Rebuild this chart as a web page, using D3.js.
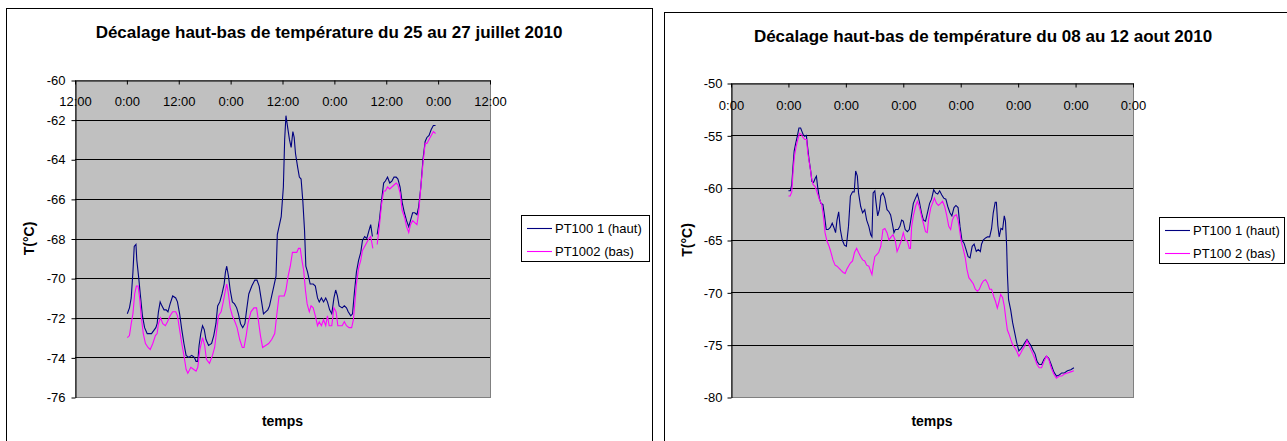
<!DOCTYPE html>
<html>
<head>
<meta charset="utf-8">
<script src="https://cdn.jsdelivr.net/npm/d3@7"></script>
<style>
  body { margin: 0; background: #fff; }
  svg text { font-family: "Liberation Sans", Arial, sans-serif; }
</style>
</head>
<body>
<svg id="chart" width="1287" height="441"></svg>
<script>
// juillet : heures depuis le 25/07/2010 0:00, temperature en °C (null = trou)
var julyHaut = [[0.1,-71.8],[0.6,-71.5],[1.0,-71.0],[1.4,-69.7],[1.7,-68.4],[2.1,-68.3],[2.3,-69.1],[2.7,-69.9],[3.1,-70.8],[3.6,-71.9],[4.1,-72.5],[4.7,-72.8],[5.7,-72.8],[6.7,-72.5],[7.0,-72.3],[7.3,-71.7],[7.7,-71.2],[8.1,-71.4],[8.6,-71.6],[9.1,-71.6],[9.5,-71.7],[10.0,-71.3],[10.6,-70.9],[11.3,-71.0],[11.7,-71.2],[12.2,-71.8],[12.7,-72.6],[13.2,-73.3],[13.7,-73.9],[14.3,-74.0],[15.0,-73.9],[15.6,-74.0],[16.0,-74.2],[16.4,-74.2],[16.7,-73.4],[17.1,-72.8],[17.5,-72.4],[17.9,-72.6],[18.3,-73.1],[18.9,-73.4],[19.6,-73.3],[20.1,-72.9],[20.6,-72.3],[21.0,-71.4],[21.5,-71.2],[22.0,-70.8],[22.5,-70.3],[22.8,-69.7],[23.1,-69.4],[23.5,-69.9],[23.9,-70.6],[24.4,-71.2],[24.9,-71.3],[25.4,-71.5],[25.8,-71.8],[26.3,-72.3],[26.8,-72.5],[27.3,-72.3],[27.7,-71.6],[28.2,-70.8],[28.9,-70.4],[29.6,-70.1],[30.1,-70.1],[30.6,-70.4],[31.1,-71.1],[31.6,-71.8],[32.1,-71.7],[32.6,-71.6],[33.0,-71.4],[33.5,-70.9],[34.0,-70.4],[34.5,-69.9],[34.8,-67.8],[35.1,-67.5],[35.7,-66.9],[36.2,-65.4],[36.5,-63.0],[36.8,-61.8],[37.2,-62.4],[37.6,-63.0],[38.0,-63.4],[38.4,-62.6],[38.7,-62.9],[39.0,-63.7],[39.5,-64.4],[39.9,-64.9],[40.3,-65.0],[40.7,-66.1],[41.1,-67.6],[41.4,-69.4],[41.8,-69.7],[42.4,-70.3],[43.1,-70.3],[43.6,-70.4],[44.1,-71.0],[44.5,-71.2],[45.0,-71.0],[45.5,-71.2],[46.0,-71.0],[46.4,-71.2],[46.9,-71.6],[47.4,-71.8],[47.9,-71.0],[48.3,-70.6],[48.7,-70.9],[49.1,-71.4],[49.8,-71.5],[50.3,-71.4],[50.8,-71.5],[51.2,-71.7],[51.8,-71.9],[52.2,-71.8],[52.6,-70.8],[53.1,-69.7],[53.6,-69.1],[54.1,-68.7],[54.5,-68.1],[55.0,-67.9],[55.5,-68.0],[56.0,-67.6],[56.4,-67.3],[56.8,-67.9],[57.3,null],[57.9,-67.8],[58.4,-67.1],[58.9,-66.1],[59.4,-65.2],[59.8,-65.1],[60.3,-64.9],[60.8,-65.2],[61.3,-65.1],[61.8,-64.9],[62.3,-64.9],[62.7,-65.0],[63.2,-65.4],[63.7,-66.2],[64.2,-66.7],[64.7,-67.1],[65.2,-67.4],[65.6,-67.1],[66.1,-66.7],[66.6,-66.7],[67.1,-66.8],[67.5,-66.4],[68.0,-65.4],[68.5,-64.0],[69.0,-63.1],[69.4,-62.9],[69.9,-62.8],[70.4,-62.5],[70.9,-62.3],[71.4,-62.3]];
var julyBas = [[0.1,-73.0],[0.6,-72.9],[1.0,-72.3],[1.4,-71.8],[1.8,-70.8],[2.2,-70.4],[2.6,-70.4],[3.0,-71.1],[3.3,-71.9],[3.8,-72.8],[4.3,-73.3],[4.9,-73.5],[5.4,-73.6],[6.0,-73.3],[6.6,-72.9],[7.0,-72.8],[7.3,-72.3],[7.8,-72.0],[8.3,-72.3],[8.9,-72.4],[9.4,-72.2],[10.0,-71.9],[10.6,-71.7],[11.3,-71.7],[11.7,-71.9],[12.2,-72.6],[12.7,-73.3],[13.2,-73.9],[13.7,-74.6],[14.1,-74.8],[14.8,-74.5],[15.4,-74.6],[16.0,-74.7],[16.4,-74.5],[16.9,-73.6],[17.5,-73.0],[18.0,-73.4],[18.4,-74.1],[19.1,-74.3],[19.8,-73.9],[20.3,-73.5],[20.8,-72.6],[21.2,-71.9],[21.8,-71.7],[22.3,-71.2],[22.8,-70.6],[23.1,-70.3],[23.5,-70.8],[23.9,-71.5],[24.4,-71.9],[25.0,-72.2],[25.5,-72.5],[26.1,-73.1],[26.7,-73.5],[27.1,-73.5],[27.6,-72.9],[28.0,-72.3],[28.7,-71.7],[29.4,-71.5],[30.0,-71.5],[30.4,-72.1],[30.9,-72.9],[31.4,-73.5],[32.1,-73.4],[32.8,-73.3],[33.5,-73.1],[34.2,-72.8],[34.7,-71.8],[35.2,-70.9],[35.7,-70.9],[36.4,-70.9],[36.8,-70.6],[37.3,-69.9],[37.8,-69.4],[38.3,-68.7],[38.8,-68.7],[39.3,-68.7],[39.7,-68.5],[40.1,-68.5],[40.5,-69.1],[40.9,-69.6],[41.3,-70.6],[41.7,-71.3],[42.2,-71.7],[42.6,-71.4],[43.1,-71.5],[43.6,-71.9],[44.1,-72.4],[44.5,-72.2],[45.0,-72.4],[45.5,-72.1],[46.0,-72.4],[46.4,-71.9],[46.8,-72.4],[47.4,-72.4],[47.9,-71.5],[48.4,-71.7],[48.8,-72.4],[49.3,-72.4],[49.8,-72.4],[50.3,-72.2],[50.8,-72.4],[51.4,-72.5],[52.0,-72.5],[52.4,-72.1],[52.8,-71.1],[53.1,-70.3],[53.6,-69.5],[54.1,-69.1],[54.5,-68.6],[55.0,-68.4],[55.5,-68.2],[56.0,-68.0],[56.4,-67.9],[56.9,-68.5],[57.3,null],[57.9,-68.3],[58.4,-67.4],[58.9,-66.3],[59.4,-65.6],[59.8,-65.6],[60.3,-65.4],[60.8,-65.5],[61.3,-65.4],[61.8,-65.3],[62.3,-65.2],[62.7,-65.3],[63.2,-65.7],[63.7,-66.6],[64.2,-66.9],[64.7,-67.4],[65.2,-67.7],[65.6,-67.3],[66.1,-67.1],[66.6,-67.2],[67.1,-67.3],[67.5,-66.7],[68.0,-65.4],[68.5,-64.2],[69.0,-63.2],[69.4,-63.2],[69.9,-63.0],[70.4,-62.8],[70.9,-62.6],[71.4,-62.7]];

// aout : heures depuis le 08/08/2010 0:00
var aoutHaut = [[0,-60.3],[0.8,-60.3],[1.4,-59.7],[1.9,-58.0],[2.4,-56.5],[3.1,-55.7],[3.7,-55.1],[4.4,-54.3],[5.1,-54.3],[5.6,-54.6],[6.1,-54.9],[6.8,-55.1],[7.5,-55.0],[8.0,-56.1],[8.6,-57.3],[9.3,-58.4],[9.8,-59.4],[10.5,-59.5],[11.2,-59.1],[11.7,-58.9],[12.2,-59.9],[12.9,-61.0],[13.6,-61.5],[14.4,-61.6],[15.1,-62.7],[15.8,-64.0],[16.6,-64.0],[17.5,-63.8],[18.3,-63.4],[19.0,-63.8],[19.7,-64.3],[20.3,-63.1],[21.0,-62.3],[21.7,-64.0],[22.5,-65.0],[23.4,-65.5],[24.2,-65.6],[25.1,-63.7],[25.9,-60.8],[26.8,-60.4],[27.5,-60.4],[28.1,-58.4],[28.8,-58.9],[29.3,-60.5],[30.2,-61.8],[31.0,-62.4],[31.9,-62.1],[32.7,-63.1],[33.6,-63.7],[34.4,-64.5],[34.9,-64.7],[35.4,-60.5],[36.1,-60.3],[36.6,-61.4],[37.3,-62.7],[38.0,-62.1],[38.6,-60.8],[39.5,-60.5],[40.3,-61.0],[41.2,-62.1],[42.0,-62.3],[42.7,-62.6],[43.4,-63.4],[44.1,-64.3],[44.7,-64.0],[45.8,-64.0],[46.6,-63.7],[47.3,-63.1],[48.0,-63.2],[48.8,-64.0],[49.7,-64.2],[50.5,-64.0],[51.4,-62.7],[52.2,-61.5],[53.1,-61.0],[53.9,-60.6],[54.7,-61.3],[55.6,-62.4],[56.4,-63.1],[57.3,-63.2],[58.1,-62.4],[59.0,-61.5],[59.8,-61.1],[60.7,-60.2],[61.5,-60.5],[62.4,-60.6],[63.2,-60.3],[64.1,-60.7],[64.9,-61.0],[65.8,-61.1],[66.6,-61.8],[67.5,-62.4],[68.3,-62.7],[69.2,-61.9],[70.0,-61.7],[70.9,-61.9],[71.7,-63.7],[72.5,-65.0],[73.4,-65.3],[74.2,-65.9],[75.1,-66.6],[75.9,-66.7],[76.8,-65.6],[77.6,-65.4],[78.5,-66.1],[79.3,-65.9],[80.2,-66.1],[80.7,-65.4],[81.4,-65.0],[82.4,-64.8],[83.2,-64.7],[84.1,-64.7],[84.9,-63.9],[85.6,-62.4],[86.4,-61.4],[86.9,-61.4],[87.5,-63.6],[88.1,-64.7],[88.8,-63.9],[89.5,-64.0],[90.2,-62.7],[90.7,-63.2],[91.2,-65.6],[91.5,-68.2],[92.0,-70.7],[92.9,-71.7],[93.7,-72.9],[94.6,-73.9],[95.4,-74.8],[96.3,-75.6],[97.1,-75.4],[98.0,-75.1],[98.8,-74.8],[99.7,-74.5],[100.5,-74.8],[101.4,-75.1],[102.2,-75.5],[103.1,-75.9],[103.9,-76.6],[104.8,-76.9],[105.8,-76.9],[106.8,-76.4],[107.8,-76.1],[108.8,-76.3],[109.8,-76.9],[110.9,-77.6],[112.0,-78.0],[113.2,-77.9],[114.2,-77.7],[115.3,-77.7],[116.6,-77.5],[118.0,-77.4],[119.3,-77.2]];
var aoutBas = [[0,-60.8],[0.7,-60.8],[1.4,-60.4],[1.9,-58.6],[2.5,-57.0],[3.2,-56.1],[3.9,-55.4],[4.7,-54.8],[5.4,-54.9],[6.1,-55.2],[6.9,-55.4],[7.6,-55.4],[8.1,-56.7],[9.0,-58.0],[9.7,-59.1],[10.3,-59.7],[11.2,-59.9],[11.9,-60.4],[12.9,-61.1],[13.9,-61.6],[14.6,-62.7],[15.3,-64.3],[16.1,-65.1],[17.0,-65.6],[17.8,-66.2],[18.6,-66.9],[19.5,-67.4],[20.3,-67.5],[21.2,-67.7],[22.0,-67.9],[22.9,-68.1],[23.7,-68.2],[24.4,-67.8],[25.1,-67.5],[25.9,-67.2],[26.8,-67.0],[27.6,-66.2],[28.5,-65.8],[29.3,-66.2],[30.2,-66.6],[31.0,-66.9],[31.9,-67.0],[32.7,-67.4],[33.6,-67.5],[34.4,-68.0],[34.9,-68.3],[35.4,-67.5],[36.1,-66.6],[36.9,-66.4],[37.7,-66.2],[38.6,-65.6],[39.5,-64.0],[40.3,-63.9],[41.2,-64.3],[42.0,-65.0],[42.9,-64.7],[43.7,-64.5],[44.6,-65.0],[45.4,-66.1],[46.3,-65.6],[47.1,-65.1],[48.0,-64.3],[48.8,-65.0],[49.7,-65.1],[50.5,-65.8],[51.0,-65.8],[51.5,-63.7],[52.2,-62.7],[53.1,-61.8],[53.9,-61.3],[54.7,-61.8],[55.6,-62.7],[56.4,-63.4],[57.3,-64.2],[58.0,-64.3],[58.6,-63.0],[59.5,-61.9],[60.2,-61.5],[61.0,-61.0],[61.9,-61.5],[62.7,-61.7],[63.6,-61.5],[64.4,-61.3],[65.3,-61.8],[66.1,-62.6],[67.0,-63.7],[67.8,-64.0],[68.5,-63.1],[69.3,-62.7],[70.2,-62.6],[70.9,-63.1],[71.5,-64.0],[72.2,-65.1],[73.1,-65.9],[73.9,-66.7],[74.6,-67.8],[75.4,-68.6],[76.4,-68.9],[77.3,-69.2],[78.1,-69.7],[79.0,-69.9],[79.8,-69.7],[80.7,-69.2],[81.5,-68.9],[82.4,-68.8],[83.2,-69.1],[84.1,-69.7],[84.9,-69.7],[85.8,-70.4],[86.6,-70.9],[87.3,-71.5],[88.0,-70.9],[88.7,-70.2],[89.5,-70.5],[90.2,-71.3],[90.9,-72.6],[91.5,-73.6],[92.2,-74.0],[92.9,-74.5],[93.7,-75.0],[94.6,-75.3],[95.4,-75.6],[96.3,-76.1],[97.1,-75.8],[98.0,-75.4],[98.8,-75.1],[99.7,-74.6],[100.5,-75.0],[101.4,-75.5],[102.2,-75.9],[103.1,-76.4],[103.9,-76.9],[104.8,-77.2],[105.8,-77.2],[106.8,-76.6],[107.8,-76.1],[108.8,-76.4],[109.8,-77.2],[110.9,-77.8],[112.0,-78.2],[113.2,-78.0],[114.2,-78.0],[115.3,-77.8],[116.6,-77.7],[118.0,-77.6],[119.3,-77.5]];

var julyYTicks = [-60, -62, -64, -66, -68, -70, -72, -74, -76];
var aoutYTicks = [-50, -55, -60, -65, -70, -75, -80];
var julyNames = ["PT100 1 (haut)", "PT1002 (bas)"];
var aoutNames = ["PT100 1 (haut)", "PT100 2 (bas)"];
var colors = ["#000080", "#ff00ff"];

var svg = d3.select("#chart");

function drawChart(cfg) {
  var g = svg.append("g");
  // cadre du graphique
  g.append("rect")
    .attr("x", cfg.frame[0] + 0.5).attr("y", cfg.frame[1] + 0.5)
    .attr("width", cfg.frame[2]).attr("height", cfg.frame[3])
    .attr("fill", "#fff").attr("stroke", "#000");

  g.append("text")
    .attr("x", cfg.titleX).attr("y", cfg.titleY)
    .attr("text-anchor", "middle")
    .style("font-size", "17px").style("font-weight", "bold")
    .text(cfg.title);

  var p = cfg.plot;
  var x = d3.scaleTime().domain(cfg.xDomain).range([p.x, p.x + p.w]);
  var y = d3.scaleLinear()
    .domain([d3.max(cfg.yTicks), d3.min(cfg.yTicks)])
    .range([p.y, p.y + p.h]);

  g.append("rect")
    .attr("x", p.x + 0.5).attr("y", p.y + 0.5)
    .attr("width", p.w).attr("height", p.h)
    .attr("fill", "#c0c0c0").attr("stroke", "#808080");

  // lignes de quadrillage
  g.selectAll(".grid")
    .data(cfg.yTicks.slice(1, -1))
    .enter().append("line")
    .attr("x1", p.x).attr("x2", p.x + p.w)
    .attr("y1", function (d) { return Math.round(y(d)) + 0.5; })
    .attr("y2", function (d) { return Math.round(y(d)) + 0.5; })
    .attr("stroke", "#000");

  var yAxis = g.append("g")
    .attr("transform", "translate(" + (p.x + 0.5) + ",0.5)")
    .call(d3.axisLeft(y).tickValues(cfg.yTicks)
      .tickFormat(function (d) { return String(d); })
      .tickSize(4).tickSizeOuter(0).tickPadding(cfg.yPad));
  var xAxis = g.append("g")
    .attr("transform", "translate(0," + (p.y + 0.5) + ")")
    .call(d3.axisBottom(x).ticks(cfg.interval).tickFormat(d3.timeFormat("%-H:%M"))
      .tickSize(4).tickSizeOuter(0).tickPadding(cfg.xPad));
  [yAxis, xAxis].forEach(function (a) {
    a.selectAll("text").style("font-size", "13px").attr("fill", "#000")
      .style("font-family", "'Liberation Sans', Arial, sans-serif");
    a.selectAll("line,path").attr("stroke", "#000");
  });

  var line = d3.line()
    .defined(function (d) { return d[1] !== null; })
    .x(function (d) { return x(new Date(+cfg.start + d[0] * 3600e3)); })
    .y(function (d) { return y(d[1]); });

  cfg.series.forEach(function (s, i) {
    g.append("path").datum(s)
      .attr("d", line)
      .attr("fill", "none")
      .attr("stroke", colors[i])
      .attr("stroke-width", 1.1);
  });

  // titres des axes
  g.append("text")
    .attr("x", p.x + p.w / 2).attr("y", 426)
    .attr("text-anchor", "middle")
    .style("font-size", "14px").style("font-weight", "bold")
    .text("temps");
  g.append("text")
    .attr("transform", "translate(" + cfg.yTitleX + "," + (p.y + p.h / 2) + ") rotate(-90)")
    .attr("text-anchor", "middle")
    .style("font-size", "14px").style("font-weight", "bold")
    .text("T(°C)");

  // légende
  var L = cfg.legend;
  g.append("rect")
    .attr("x", L[0] + 0.5).attr("y", L[1] + 0.5)
    .attr("width", L[2]).attr("height", L[3])
    .attr("fill", "#fff").attr("stroke", "#000");
  cfg.names.forEach(function (n, i) {
    var ly = L[1] + 13 + i * 23;
    g.append("line")
      .attr("x1", L[0] + 6).attr("x2", L[0] + 31)
      .attr("y1", ly + 0.5).attr("y2", ly + 0.5)
      .attr("stroke", colors[i]).attr("stroke-width", 1.1);
    g.append("text")
      .attr("x", L[0] + 34).attr("y", ly + 4.5)
      .style("font-size", "13px")
      .text(n);
  });
}

drawChart({
  frame: [6, 8, 646, 440],
  title: "Décalage haut-bas de température du 25 au 27 juillet 2010",
  titleX: 329, titleY: 38,
  plot: { x: 75, y: 80, w: 415, h: 317 },
  xDomain: [new Date(2010, 6, 24, 12), new Date(2010, 6, 28, 12)],
  interval: d3.timeHour.every(12),
  start: new Date(2010, 6, 25),
  yTicks: julyYTicks, yPad: 6, xPad: 12, yTitleX: 34,
  series: [julyHaut, julyBas],
  names: julyNames,
  legend: [521, 215, 128, 46]
});

drawChart({
  frame: [664, 12, 640, 440],
  title: "Décalage haut-bas de température du 08 au 12 aout 2010",
  titleX: 983, titleY: 42,
  plot: { x: 731, y: 83, w: 402, h: 314 },
  xDomain: [new Date(2010, 7, 7), new Date(2010, 7, 14)],
  interval: d3.timeDay.every(1),
  start: new Date(2010, 7, 8),
  yTicks: aoutYTicks, yPad: 5, xPad: 13, yTitleX: 692,
  series: [aoutHaut, aoutBas],
  names: aoutNames,
  legend: [1159, 217, 125, 46]
});
</script>
</body>
</html>
